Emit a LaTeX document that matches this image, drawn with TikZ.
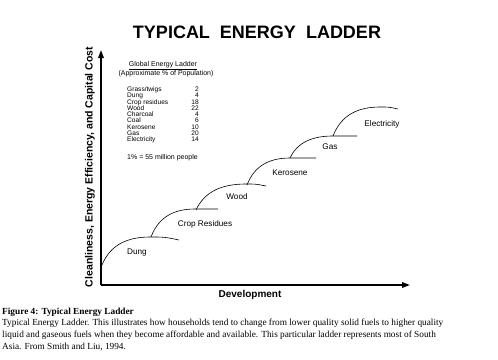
\documentclass[tikz,border=0pt]{standalone}
\usepackage{fontspec}
\setmainfont{Liberation Serif}
\setsansfont{Liberation Sans}
\usetikzlibrary{arrows.meta,calc}

\tikzset{
  axis/.style={line width=1.6pt,-{Triangle[length=8pt,width=5.5pt]}},
  rung/.style={line width=0.6pt,black},
  fuellbl/.style={font=\sffamily\fontsize{8.2}{9}\selectfont},
  tabtxt/.style={font=\sffamily\fontsize{7}{7}\selectfont,inner sep=0pt},
  captxt/.style={anchor=west,inner sep=0pt,font=\fontsize{9.3}{11}\selectfont}
}

\begin{document}
\begin{tikzpicture}[x=1pt,y=-1pt]
    \useasboundingbox (0,0) rectangle (498,359);

    % title
    \node (title) at (257,32) {\sffamily\bfseries\fontsize{18}{20}\selectfont TYPICAL\ \ ENERGY\ \ LADDER};

    % axes
    \coordinate (O) at (101,285);
    \coordinate (ytop) at (101,50);
    \coordinate (xend) at (410,285);
    \draw[axis] (O)--(ytop);
    \draw[axis] (O)--(xend);
    \node[rotate=90,font=\sffamily\bfseries\fontsize{10.5}{11}\selectfont] (ylab) at (90,167) {Cleanliness, Energy Efficiency, and Capital Cost};
    \node[font=\sffamily\bfseries\fontsize{10}{11}\selectfont] (xlab) at (250,295) {Development};

    % ladder rungs
    \foreach \nm/\sx/\sy/\px/\py/\ex/\ey/\lx/\ly [count=\i] in {
        Dung/102/265/150/237/179/240/137/253,
        Crop Residues/151/237/195/209/218/209/205/224,
        Wood/196/210/246/184/266/186/237/197,
        Kerosene/247/185/290/158/316/158/290/173,
        Gas/290/158/333/136/357/136/330/147,
        Electricity/333/136/380/107/398/109/382/124}
    {
        \pgfmathsetmacro\dx{\px-\sx}
        \pgfmathsetmacro\dy{\sy-\py}
        \pgfmathsetmacro\w{0.5*(\ex-\px)}
        \draw[rung] (\sx,\sy) .. controls +(0.18*\dx,-0.75*\dy) and +(-0.45*\dx,0) .. (\px,\py)
            .. controls +(\w,0) .. (\ex,\ey);
        \node[fuellbl] (fuel\i) at (\lx,\ly) {\nm};
    }

    % inset table
    \node[tabtxt] (tabhead) at (163,65) {Global Energy Ladder};
    \draw[line width=0.6pt] ([yshift=-1.2pt]tabhead.south west) -- ([yshift=-1.2pt]tabhead.south east);
    \node[tabtxt] (tabsub) at (166,74) {(Approximate \% of Population)};
    \foreach \fuel/\pct [count=\j from 0] in {{Grass/twigs}/2,Dung/4,Crop residues/18,Wood/22,Charcoal/4,Coal/6,Kerosene/10,Gas/20,Electricity/14}
    {
        \node[tabtxt,anchor=base west,font=\sffamily\fontsize{6.6}{7}\selectfont] (row\j) at (127,91.5+6.25*\j) {\fuel};
        \node[tabtxt,anchor=base east,font=\sffamily\fontsize{6.6}{7}\selectfont] (pct\j) at (199,91.5+6.25*\j) {\pct};
    }
    \node[tabtxt,anchor=west] (tabfoot) at (127,158) {1\%\ =\ 55 million people};

    % caption
    \node[captxt] (caphead) at (2,312) {\bfseries Figure 4: Typical Energy Ladder};
    \node[captxt] (cap1) at (2,323.5) {Typical Energy Ladder. This illustrates how households tend to change from lower quality solid fuels to higher quality};
    \node[captxt] (cap2) at (2,335) {liquid and gaseous fuels when they become affordable and available. This particular ladder represents most of South};
    \node[captxt] (cap3) at (2,346.5) {Asia. From Smith and Liu, 1994.};
\end{tikzpicture}
\end{document}
